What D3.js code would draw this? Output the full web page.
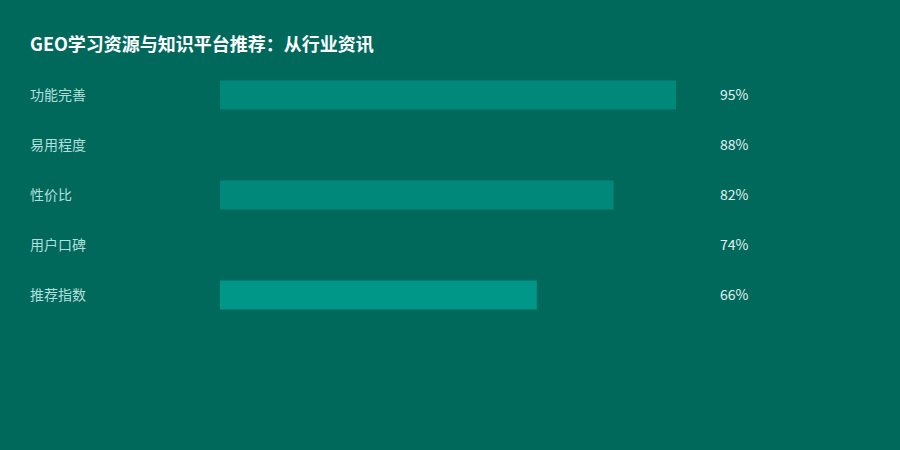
<!DOCTYPE html>
<html>
<head>
<meta charset="utf-8">
<script src="https://cdn.jsdelivr.net/npm/d3@7"></script>
<style>
  html, body { margin: 0; padding: 0; background: #00695c; }
  svg { display: block; }
</style>
</head>
<body>
<div class="chart"></div>
<script>
var svgWidth = 900;
var svgHeight = 450;

// chart data
var categories = ["功能完善", "易用程度", "性价比", "用户口碑", "推荐指数"];
var values = [95, 88, 82, 74, 66];
var barColors = ["#00897b", "#00695c", "#00897b", "#00695c", "#009688"];

var svg = d3.select(".chart")
  .append("svg")
  .attr("width", svgWidth)
  .attr("height", svgHeight)
  .style("font-family", "'Noto Sans CJK SC', 'Noto Sans', sans-serif");

svg.append("rect")
  .attr("width", svgWidth)
  .attr("height", svgHeight)
  .attr("fill", "#00695c");

// title
svg.append("text")
  .attr("x", 30)
  .attr("y", 51)
  .attr("fill", "#ffffff")
  .attr("font-size", "18px")
  .attr("font-weight", "bold")
  .text("GEO学习资源与知识平台推荐：从行业资讯");

var xScale = d3.scaleLinear()
  .domain([0, 100])
  .range([220, 700]);

var yScale = d3.scaleBand()
  .domain(categories)
  .range([70, 320])
  .paddingInner(0.42)
  .paddingOuter(0.21);

var rows = svg.append("g")
  .selectAll("g")
  .data(categories)
  .enter()
  .append("g");

rows.append("rect")
  .attr("x", xScale(0))
  .attr("y", d => yScale(d))
  .attr("width", (d, i) => xScale(values[i]) - xScale(0))
  .attr("height", yScale.bandwidth())
  .attr("fill", (d, i) => barColors[i]);

rows.append("text")
  .attr("x", 30)
  .attr("y", d => yScale(d) + yScale.bandwidth() / 2)
  .attr("dy", "0.35em")
  .attr("fill", "#b2dfdb")
  .attr("font-size", "14px")
  .text(d => d);

rows.append("text")
  .attr("x", xScale(100) + 20)
  .attr("y", d => yScale(d) + yScale.bandwidth() / 2)
  .attr("dy", "0.35em")
  .attr("fill", "#e0f2f1")
  .attr("font-size", "14px")
  .text((d, i) => values[i] + "%");
</script>
</body>
</html>
